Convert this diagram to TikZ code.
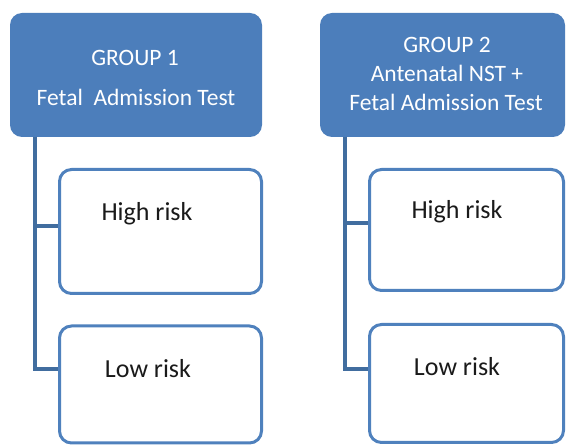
\documentclass[tikz,border=0pt]{standalone}
\usepackage{fontspec}
\setmainfont{Carlito}
\definecolor{hdrblue}{HTML}{4C7EBB}
\definecolor{lineblue}{HTML}{416D9F}
\definecolor{boxblue}{HTML}{4F81BD}
\definecolor{txtdark}{HTML}{1A1A1A}
\begin{document}
\begin{tikzpicture}[x=1pt,y=-1pt,
  header/.style={fill=hdrblue,draw=none,rounded corners=12pt,inner sep=0pt},
  riskbox/.style={draw=boxblue,line width=3pt,fill=white,rounded corners=12pt,inner sep=0pt},
  hdrtext/.style={text=white,font=\fontsize{23.5}{28}\selectfont,inner sep=0pt,anchor=center},
  risktext/.style={text=txtdark,font=\fontsize{26}{30}\selectfont,inner sep=0pt,anchor=center},
  conn/.style={draw=lineblue,line width=4pt}]
\useasboundingbox (0,0) rectangle (566,446);
% headers
\node[header,minimum width=252pt,minimum height=124pt] (g1) at (136,75) {};
\node[header,minimum width=245pt,minimum height=124pt] (g2) at (442.5,75) {};
\node[hdrtext] (g1a) at (135,58) {GROUP 1};
\node[hdrtext] (g1b) at (136,97) {Fetal\ \ Admission Test};
\node[hdrtext] (g2a) at (447,45) {GROUP 2};
\node[hdrtext] (g2b) at (447,73) {Antenatal NST +};
\node[hdrtext] (g2c) at (446,102) {Fetal Admission Test};
% risk boxes
\node[riskbox,minimum width=202pt,minimum height=124pt] (hr1) at (160.5,231.5) {};
\node[riskbox,minimum width=202pt,minimum height=117pt] (lr1) at (160.5,384.5) {};
\node[riskbox,minimum width=194pt,minimum height=121pt] (hr2) at (466.5,230) {};
\node[riskbox,minimum width=194pt,minimum height=118pt] (lr2) at (466.5,383.5) {};
% connectors
\coordinate (t1) at (35,137);
\coordinate (t2) at (345,137);
\draw[conn] (t1) |- ([yshift=5pt]hr1.west);
\draw[conn] (t1) |- ([yshift=15.5pt]lr1.west);
\draw[conn] (t2) |- ([yshift=7pt]hr2.west);
\draw[conn] (t2) |- ([yshift=14.5pt]lr2.west);
% texts
\node[risktext] (hr1t) at (147,214) {High risk};
\node[risktext] (lr1t) at (148,369) {Low risk};
\node[risktext] (hr2t) at (457,212) {High risk};
\node[risktext] (lr2t) at (457,367) {Low risk};
\end{tikzpicture}
\end{document}
